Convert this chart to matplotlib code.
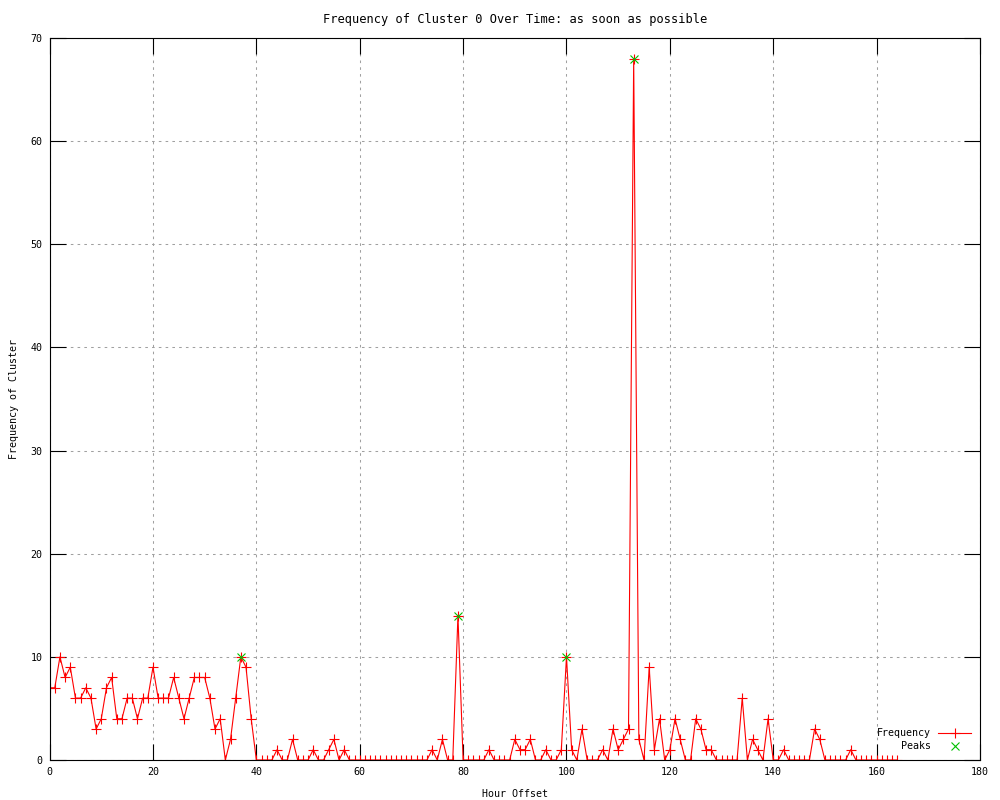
import matplotlib
matplotlib.use("Agg")
import matplotlib.pyplot as plt

# hourly counts for cluster 0, hour offset 0..164
hours = list(range(165))
freq = [7, 7, 10, 8, 9, 6, 6, 7, 6, 3,
        4, 7, 8, 4, 4, 6, 6, 4, 6, 6,
        9, 6, 6, 6, 8, 6, 4, 6, 8, 8,
        8, 6, 3, 4, 0, 2, 6, 10, 9, 4,
        0, 0, 0, 0, 1, 0, 0, 2, 0, 0,
        0, 1, 0, 0, 1, 2, 0, 1, 0, 0,
        0, 0, 0, 0, 0, 0, 0, 0, 0, 0,
        0, 0, 0, 0, 1, 0, 2, 0, 0, 14,
        0, 0, 0, 0, 0, 1, 0, 0, 0, 0,
        2, 1, 1, 2, 0, 0, 1, 0, 0, 1,
        10, 1, 0, 3, 0, 0, 0, 1, 0, 3,
        1, 2, 3, 68, 2, 0, 9, 1, 4, 0,
        1, 4, 2, 0, 0, 4, 3, 1, 1, 0,
        0, 0, 0, 0, 6, 0, 2, 1, 0, 4,
        0, 0, 1, 0, 0, 0, 0, 0, 3, 2,
        0, 0, 0, 0, 0, 1, 0, 0, 0, 0,
        0, 0, 0, 0, 0]

peak_hours = [37, 79, 100, 113]
peak_freq = [10, 14, 10, 68]

xticks = list(range(0, 181, 20))
yticks = list(range(0, 71, 10))

plt.rcParams['font.family'] = ['DejaVu Sans Mono']
plt.rcParams['font.size'] = 7.2

fig = plt.figure(figsize=(10, 8), dpi=100)
ax = fig.add_axes([0.0496, 0.05, 0.9304, 0.9025])

ax.plot(hours, freq, color='#ff0000', lw=0.8, marker='+', ms=6.5, mew=0.8,
        label='Frequency')
ax.plot(peak_hours, peak_freq, ls='none', color='#00c000', marker='x',
        ms=5.5, mew=0.8, label='Peaks')

ax.set_xlim(0, 180)
ax.set_ylim(0, 70)
ax.set_xticks(xticks)
ax.set_yticks(yticks)
ax.tick_params(direction='in', length=11.5, width=0.8, top=True, right=True,
               color='black', pad=5)
ax.grid(True, color='#a0a0a0', ls=(0, (2.5, 4)), lw=0.75)
ax.set_axisbelow(True)
for s in ax.spines.values():
    s.set_color('black')
    s.set_linewidth(0.8)

ax.set_title('Frequency of Cluster 0 Over Time: as soon as possible', pad=11)
ax.set_xlabel('Hour Offset', labelpad=8.5)
ax.set_ylabel('Frequency of Cluster')
ax.yaxis.set_label_coords(-0.033, 0.5)

leg = ax.legend(loc='lower right', markerfirst=False, frameon=False,
                handlelength=3.3, handletextpad=0.7, labelspacing=0.3,
                borderaxespad=0.6, borderpad=0.3)

fig.savefig('out.png')
